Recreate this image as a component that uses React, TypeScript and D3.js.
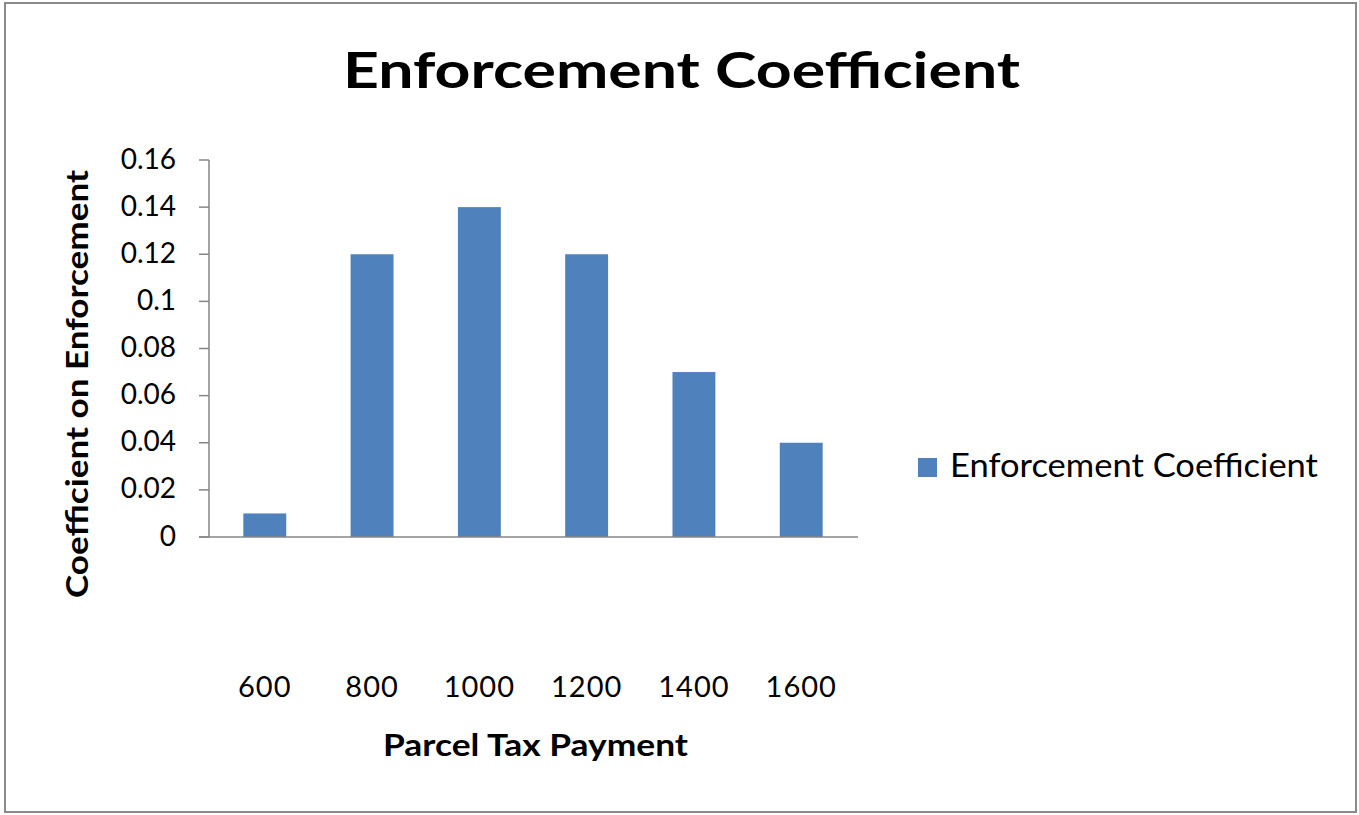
import React from "react";
import * as d3 from "d3";

const categories = ["600", "800", "1000", "1200", "1400", "1600"];
const values = [0.01, 0.12, 0.14, 0.12, 0.07, 0.04];
const yTicks = [0, 0.02, 0.04, 0.06, 0.08, 0.1, 0.12, 0.14, 0.16];
const seriesName = "Enforcement Coefficient";
const chartTitle = "Enforcement Coefficient";
const xTitle = "Parcel Tax Payment";
const yTitle = "Coefficient on Enforcement";

const W = 1359;
const H = 815;
const FONT = "Lato, 'Open Sans', sans-serif";
const BAR = "#4f81bd";

export default function App() {
  const x = d3.scaleBand<string>().domain(categories).range([209, 857]).paddingInner(0.6).paddingOuter(0.32);
  const y = d3.scaleLinear().domain([0, 0.16]).range([537, 160]);
  return (
    <svg width={W} height={H} style={{ position: "absolute", left: 0, top: 0, background: "#fff" }}>
      <rect x={5} y={3} width={1351} height={809} fill="#fff" stroke="#8a8a8a" strokeWidth={2} />
      <text x={343} y={88} textLength={677} lengthAdjust="spacingAndGlyphs" fontFamily={FONT} fontWeight="bold" fontSize={50} fill="#000">{chartTitle}</text>
      {/* y axis */}
      <line x1={209} x2={209} y1={160} y2={537} stroke="#868686" strokeWidth={1.5} />
      {yTicks.map((t) => (
        <g key={t}>
          <line x1={199} x2={209} y1={y(t)} y2={y(t)} stroke="#868686" strokeWidth={1.5} />
          <text x={176} y={y(t) + 8.5} textAnchor="end" fontFamily={FONT} fontSize={28} fill="#000">{String(t)}</text>
        </g>
      ))}
      {/* bars */}
      {categories.map((c, i) => (
        <rect key={c} x={x(c)} y={y(values[i])} width={x.bandwidth()} height={y(0) - y(values[i])} fill={BAR} />
      ))}
      {/* x axis */}
      <line x1={199} x2={858} y1={537} y2={537} stroke="#868686" strokeWidth={1.5} />
      {categories.map((c) => (
        <text key={c} x={(x(c) as number) + x.bandwidth() / 2} y={697} textAnchor="middle" fontFamily={FONT} fontSize={29} letterSpacing={1} fill="#000">{c}</text>
      ))}
      <text x={383} y={756} textLength={305} lengthAdjust="spacingAndGlyphs" fontFamily={FONT} fontWeight="bold" fontSize={31} fill="#000">{xTitle}</text>
      <text transform={`translate(88,598) rotate(-90)`} textLength={428} lengthAdjust="spacingAndGlyphs" fontFamily={FONT} fontWeight="bold" fontSize={31} fill="#000">{yTitle}</text>
      {/* legend */}
      <rect x={918} y={458} width={19} height={19} fill={BAR} />
      <text x={950} y={477} textLength={368} lengthAdjust="spacingAndGlyphs" fontFamily={FONT} fontSize={32} fill="#000">{seriesName}</text>
    </svg>
  );
}
